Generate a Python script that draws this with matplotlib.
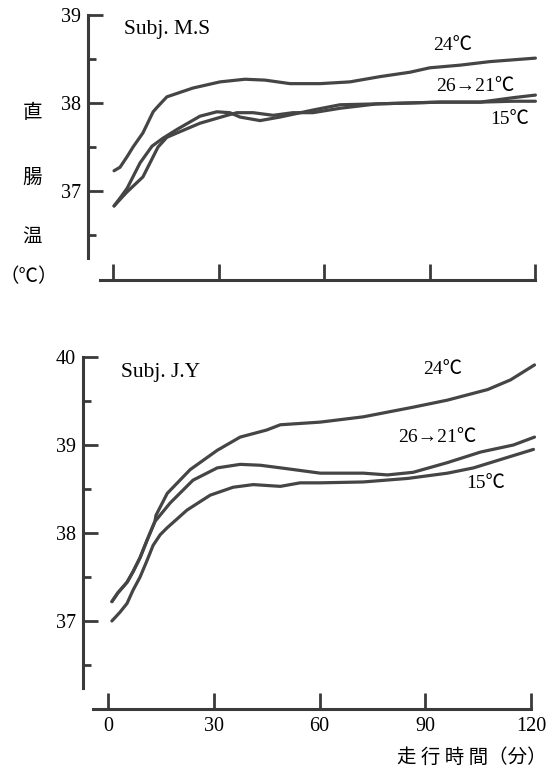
import matplotlib
matplotlib.use("Agg")
import matplotlib.pyplot as plt

# --- dati (tempo in minuti, temperatura rettale in °C) ---
# Subj. M.S
ms_t_24 = [0.3, 2.0, 4.0, 5.7, 8.5, 11.4, 12.5, 15.3, 19.0, 22.7, 30.4, 37.5,
           43.2, 50.3, 58.8, 67.3, 75.9, 84.4, 90.0, 98.6, 107.0, 120.0]
ms_T_24 = [37.23, 37.27, 37.39, 37.50, 37.66, 37.90, 37.95, 38.07, 38.12, 38.17,
           38.24, 38.27, 38.26, 38.22, 38.22, 38.24, 38.30, 38.35, 38.40, 38.43,
           38.47, 38.51]
ms_t_2621 = [0.3, 2.0, 4.0, 7.7, 11.1, 14.2, 18.2, 24.7, 29.5, 33.2, 36.1, 41.8,
             47.4, 56.8, 64.5, 75.0, 92.9, 104.3, 113.6, 120.0]
ms_T_2621 = [36.83, 36.92, 37.03, 37.32, 37.51, 37.60, 37.70, 37.85, 37.90, 37.89,
             37.84, 37.80, 37.84, 37.92, 37.98, 37.99, 38.01, 38.01, 38.06, 38.09]
ms_t_15 = [0.3, 2.6, 4.0, 8.5, 12.8, 15.3, 18.2, 24.7, 32.4, 35.2, 39.8, 45.5,
           51.1, 56.8, 64.5, 75.0, 92.9, 104.3, 113.6, 120.0]
ms_T_15 = [36.83, 36.93, 36.99, 37.16, 37.50, 37.61, 37.66, 37.77, 37.86, 37.89,
           37.89, 37.86, 37.89, 37.89, 37.94, 37.99, 38.01, 38.01, 38.02, 38.02]

# Subj. J.Y
jy_t_24 = [1.1, 2.8, 5.4, 7.1, 9.1, 11.1, 13.3, 13.6, 16.8, 23.3, 31.0, 37.5,
           45.0, 48.9, 60.2, 72.4, 86.6, 96.3, 107.7, 114.2, 121.0]
jy_T_24 = [37.22, 37.32, 37.44, 37.56, 37.72, 37.92, 38.13, 38.20, 38.45, 38.72,
           38.94, 39.09, 39.17, 39.23, 39.26, 39.32, 39.43, 39.51, 39.63, 39.74, 39.91]
jy_t_2621 = [1.1, 2.8, 5.4, 7.1, 9.1, 11.1, 13.3, 17.6, 24.1, 31.0, 37.5, 43.2,
             50.9, 60.2, 72.4, 79.3, 86.6, 96.3, 105.7, 115.0, 121.0]
jy_T_2621 = [37.22, 37.32, 37.44, 37.56, 37.72, 37.92, 38.13, 38.34, 38.60, 38.74,
             38.78, 38.77, 38.73, 38.68, 38.68, 38.66, 38.69, 38.80, 38.92, 39.00, 39.09]
jy_t_15 = [1.1, 3.4, 5.4, 7.1, 9.1, 11.1, 12.8, 14.8, 16.8, 22.4, 29.0, 35.5,
           41.2, 48.9, 54.5, 60.2, 72.4, 85.0, 96.3, 103.7, 113.4, 120.7]
jy_T_15 = [37.00, 37.10, 37.20, 37.35, 37.50, 37.69, 37.86, 37.98, 38.06, 38.26,
           38.43, 38.52, 38.55, 38.53, 38.57, 38.57, 38.58, 38.62, 38.68, 38.74,
           38.86, 38.95]

x_ticks = [0, 30, 60, 90, 120]
ms_yticks = [37, 38, 39]
ms_yminor = [36.5, 37.5, 38.5]
jy_yticks = [37, 38, 39, 40]
jy_yminor = [36.5, 37.5, 38.5, 39.5]

# --- stile ---
C_LINE = "#454545"
C_AX = "#3a3a3a"
SERIF = ["Liberation Serif", "Noto Sans CJK JP"]
CJK = ["Noto Sans CJK JP", "DejaVu Sans"]

W, H = 558, 768
fig = plt.figure(figsize=(W / 100, H / 100), dpi=100)


def make_axes(left, right, bottom, top, x0, sx, y_ref, T_ref, sy, x_start, y_end,
              yticks, yminor):
    """Crea un asse posizionato in pixel della figura."""
    ax = fig.add_axes([left / W, 1 - bottom / H, (right - left) / W, (bottom - top) / H])
    ax.set_xlim((left - x0) / sx, (right - x0) / sx)
    ax.set_ylim(T_ref - (bottom - y_ref) / sy, T_ref + (y_ref - top) / sy)
    for s in ("top", "right"):
        ax.spines[s].set_visible(False)
    for s in ("left", "bottom"):
        ax.spines[s].set_linewidth(2.2)
        ax.spines[s].set_color(C_AX)
    ax.spines["bottom"].set_bounds((x_start - x0) / sx, 120)
    ax.spines["left"].set_bounds(T_ref - (y_end - y_ref) / sy, max(yticks))
    ax.set_xticks(x_ticks)
    ax.set_yticks(yticks)
    ax.set_yticks(yminor, minor=True)
    ax.tick_params(axis="x", direction="in", length=11.5, width=2, color=C_AX, pad=6,
                   labelsize=14.5)
    ax.tick_params(axis="y", which="major", direction="in", length=11, width=2,
                   color=C_AX, pad=5, labelsize=14.5)
    ax.tick_params(axis="y", which="minor", direction="in", length=5.5, width=2,
                   color=C_AX)
    for lab in ax.get_xticklabels() + ax.get_yticklabels():
        lab.set_family(SERIF)
    ax.patch.set_visible(False)
    return ax


# --- pannello superiore: Subj. M.S ---
ax1 = make_axes(88, 540, 280, 10, 113, 3.52, 15, 39, 88, 100, 258,
                ms_yticks, ms_yminor)
ax1.set_xticklabels([])
for t, T in ((ms_t_24, ms_T_24), (ms_t_2621, ms_T_2621), (ms_t_15, ms_T_15)):
    ax1.plot(t, T, color=C_LINE, lw=2.3, solid_capstyle="round",
             solid_joinstyle="round", clip_on=False)
ax1.text(3.1, 38.83, "Subj. M.S", family=SERIF, fontsize=15.5, va="center", ha="left")
ax1.text(96.6, 38.65, "24℃", family=SERIF, fontsize=14, va="center", ha="center")
ax1.text(102.8, 38.19, "26→21℃", family=SERIF, fontsize=14, va="center", ha="center")
ax1.text(112.8, 37.81, "15℃", family=SERIF, fontsize=14, va="center", ha="center")

# --- pannello inferiore: Subj. J.Y ---
ax2 = make_axes(83, 540, 709, 350, 108, 3.525, 357, 40, 88, 93, 688,
                jy_yticks, jy_yminor)
for t, T in ((jy_t_24, jy_T_24), (jy_t_2621, jy_T_2621), (jy_t_15, jy_T_15)):
    ax2.plot(t, T, color=C_LINE, lw=2.3, solid_capstyle="round",
             solid_joinstyle="round", clip_on=False)
ax2.text(3.7, 39.82, "Subj. J.Y", family=SERIF, fontsize=15.5, va="center", ha="left")
ax2.text(95.0, 39.86, "24℃", family=SERIF, fontsize=14, va="center", ha="center")
ax2.text(93.3, 39.09, "26→21℃", family=SERIF, fontsize=14, va="center", ha="center")
ax2.text(107.2, 38.56, "15℃", family=SERIF, fontsize=14, va="center", ha="center")

# --- etichette assi ---
for ch, yp in (("直", 113), ("腸", 177), ("温", 237)):
    fig.text(32 / W, 1 - yp / H, ch, family=CJK, fontsize=14, ha="center", va="center")
fig.text(29 / W, 1 - 277 / H, "（℃）", family=CJK, fontsize=14, ha="center", va="center")
fig.text(547 / W, 1 - 757 / H, "走 行 時 間（分）", family=CJK, fontsize=14,
         ha="right", va="center")

fig.savefig("out.png", dpi=100)
